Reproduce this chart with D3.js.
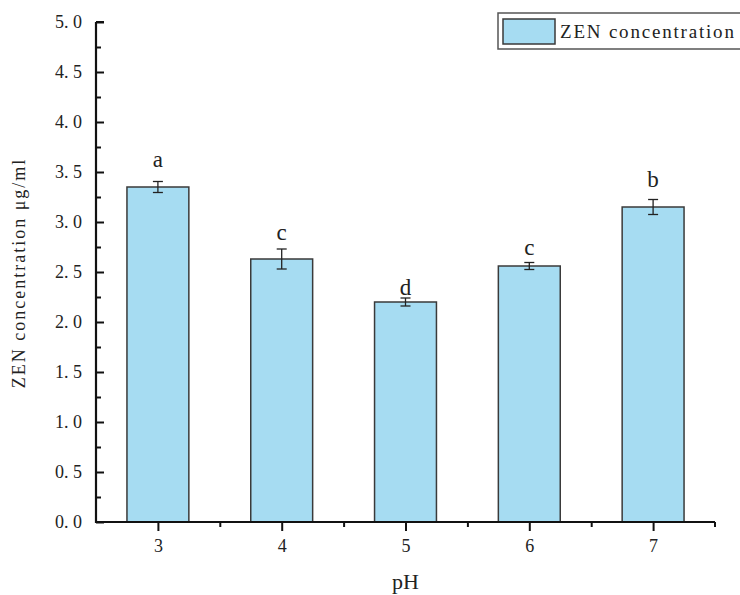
<!DOCTYPE html>
<html>
<head>
<meta charset="utf-8">
<script src="https://cdn.jsdelivr.net/npm/d3@7"></script>
<style>
  body { margin: 0; background: #fff; }
  svg text { font-family: "Liberation Serif", "DejaVu Serif", serif; fill: #222; }
</style>
</head>
<body>
<div id="chart"></div>
<script>
const phLevels = [3, 4, 5, 6, 7];
const concentration = [3.35, 2.63, 2.20, 2.56, 3.15];
const errors = [0.055, 0.10, 0.04, 0.035, 0.075];
const letters = ['a', 'c', 'd', 'c', 'b'];
// height (in µg/ml) at which each significance letter sits
const letterLevel = [3.55, 2.82, 2.27, 2.67, 3.35];
const yTicks = [0, 0.5, 1.0, 1.5, 2.0, 2.5, 3.0, 3.5, 4.0, 4.5, 5.0];

const W = 740, H = 595;
const mLeft = 96, mRight = 715, mTop = 22, mBottom = 522;

const svg = d3.select('#chart').append('svg')
  .attr('width', W)
  .attr('height', H);

const x = d3.scaleLinear().domain([2.5, 7.5]).range([mLeft, mRight]);
const y = d3.scaleLinear().domain([0, 5]).range([mBottom, mTop]);
const barW = (x(4) - x(3)) / 2;

// bars
svg.append('g').selectAll('rect')
  .data(phLevels)
  .join('rect')
  .attr('x', (d) => x(d) - barW / 2)
  .attr('y', (d, i) => y(concentration[i]))
  .attr('width', barW)
  .attr('height', (d, i) => mBottom - y(concentration[i]))
  .attr('fill', '#a6dcf2')
  .attr('stroke', '#3a3a3a')
  .attr('stroke-width', 1.5);

// error bars
const eb = svg.append('g').attr('stroke', '#222').attr('stroke-width', 1.3);
phLevels.forEach((p, i) => {
  const cx = x(p);
  const hi = y(concentration[i] + errors[i]);
  const lo = y(concentration[i] - errors[i]);
  eb.append('line').attr('x1', cx).attr('x2', cx).attr('y1', hi).attr('y2', lo);
  eb.append('line').attr('x1', cx - 5).attr('x2', cx + 5).attr('y1', hi).attr('y2', hi);
  eb.append('line').attr('x1', cx - 5).attr('x2', cx + 5).attr('y1', lo).attr('y2', lo);

  svg.append('text')
    .attr('x', cx)
    .attr('y', y(letterLevel[i]))
    .attr('text-anchor', 'middle')
    .attr('font-size', 23)
    .text(letters[i]);
});

// y axis, ticks pointing inward
const yMinor = svg.append('g').attr('transform', `translate(${mLeft},0)`)
  .call(d3.axisRight(y).tickValues(d3.range(0.25, 5, 0.5)).tickSize(5).tickFormat(''));
yMinor.select('.domain').remove();
const yMajor = svg.append('g').attr('transform', `translate(${mLeft},0)`)
  .call(d3.axisRight(y).tickValues(yTicks).tickSize(8).tickFormat(''));
yMajor.select('.domain').remove();

svg.append('g').selectAll('text')
  .data(yTicks)
  .join('text')
  .attr('x', mLeft - 14)
  .attr('y', (d) => y(d))
  .attr('dy', '0.35em')
  .attr('text-anchor', 'end')
  .attr('font-size', 18)
  .attr('fill', '#333')
  .text((d) => d.toFixed(1).replace('.', '. '));

// x axis
const xMinor = svg.append('g').attr('transform', `translate(0,${mBottom})`)
  .call(d3.axisBottom(x).tickValues([3.5, 4.5, 5.5, 6.5]).tickSize(5).tickFormat(''));
xMinor.select('.domain').remove();
const xAxis = svg.append('g').attr('transform', `translate(0,${mBottom})`)
  .call(d3.axisBottom(x).tickValues(phLevels).tickSize(9).tickPadding(8).tickFormat(d3.format('d')));
xAxis.select('.domain').remove();
xAxis.selectAll('text').attr('font-size', 18).attr('fill', '#333').attr('font-family', '"Liberation Serif", serif');
svg.selectAll('.tick line').attr('stroke', '#111').attr('stroke-width', 2);

// axis lines
svg.append('line').attr('x1', mLeft).attr('x2', mLeft).attr('y1', mTop).attr('y2', mBottom + 1)
  .attr('stroke', '#111').attr('stroke-width', 2.2);
svg.append('line').attr('x1', mLeft - 1).attr('x2', mRight).attr('y1', mBottom).attr('y2', mBottom)
  .attr('stroke', '#111').attr('stroke-width', 2.2);
svg.append('line').attr('x1', mLeft).attr('x2', mLeft + 8).attr('y1', mTop).attr('y2', mTop)
  .attr('stroke', '#111').attr('stroke-width', 2);
svg.append('line').attr('x1', mRight).attr('x2', mRight).attr('y1', mBottom).attr('y2', mBottom + 5)
  .attr('stroke', '#111').attr('stroke-width', 2);

// axis titles
svg.append('text')
  .attr('x', x(5))
  .attr('y', 589)
  .attr('text-anchor', 'middle')
  .attr('font-size', 22)
  .text('pH');

svg.append('text')
  .attr('transform', 'translate(25,273) rotate(-90)')
  .attr('text-anchor', 'middle')
  .attr('font-size', 18)
  .attr('letter-spacing', 2)
  .text('ZEN concentration μg/ml');

// legend
const lg = svg.append('g');
lg.append('rect')
  .attr('x', 498).attr('y', 13).attr('width', 260).attr('height', 36)
  .attr('fill', '#fff').attr('stroke', '#555').attr('stroke-width', 1.5);
lg.append('rect')
  .attr('x', 503).attr('y', 19).attr('width', 52).attr('height', 25)
  .attr('fill', '#a6dcf2').attr('stroke', '#3a3a3a').attr('stroke-width', 1.5);
lg.append('text')
  .attr('x', 560).attr('y', 38)
  .attr('font-size', 19)
  .attr('letter-spacing', 1.8)
  .text('ZEN concentration');
</script>
</body>
</html>
